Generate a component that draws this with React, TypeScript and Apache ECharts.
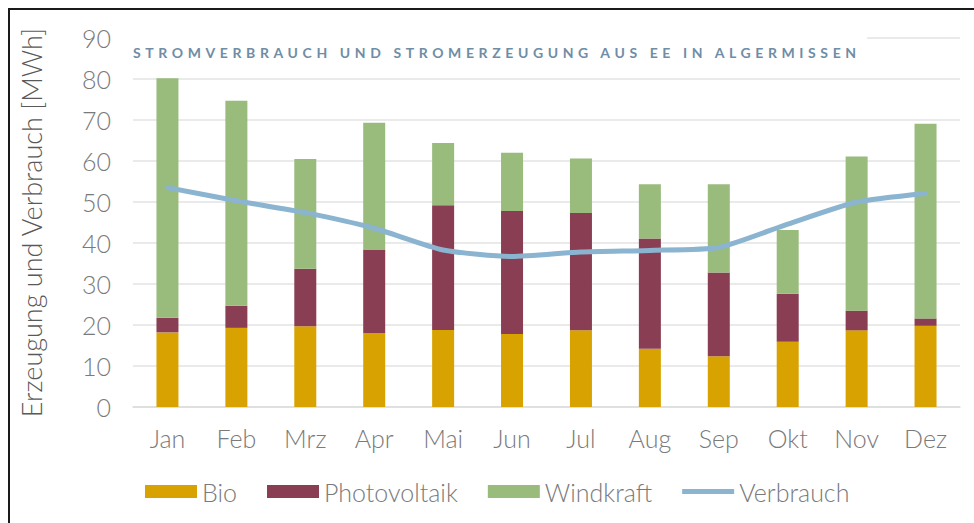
import React, { useEffect, useRef } from "react";
import * as echarts from "echarts";

const TITLE = "STROMVERBRAUCH UND STROMERZEUGUNG AUS EE IN ALGERMISSEN";
const months = ["Jan", "Feb", "Mrz", "Apr", "Mai", "Jun", "Jul", "Aug", "Sep", "Okt", "Nov", "Dez"];
const bio = [18.2, 19.3, 19.7, 18.0, 18.8, 17.8, 18.7, 14.2, 12.4, 15.9, 18.7, 19.8];
const photovoltaik = [3.6, 5.4, 14.0, 20.4, 30.4, 30.0, 28.6, 26.9, 20.4, 11.7, 4.8, 1.8];
const windkraft = [58.4, 50.0, 26.8, 30.9, 15.2, 14.2, 13.3, 13.2, 21.5, 15.6, 37.6, 47.5];
const verbrauch = [53.5, 50.3, 47.4, 43.6, 38.3, 36.7, 37.8, 38.2, 38.9, 44.6, 50.0, 52.1];
const yTicks = { min: 0, max: 90, interval: 10 };

const FONT = "Lato, 'Open Sans', sans-serif";
const LABEL = "#7a7a7a";

export default function App() {
  const ref = useRef<HTMLDivElement>(null);
  useEffect(() => {
    if (!ref.current) return;
    const chart = echarts.init(ref.current, undefined, { renderer: "svg" });
    const option: any = {
      animation: false,
      backgroundColor: "#ffffff",
      textStyle: { fontFamily: FONT },
      title: {
        text: TITLE,
        left: 123,
        top: 35,
        padding: 0,
        z: 10,
        textStyle: { fontFamily: FONT, fontSize: 14, fontWeight: "bold", color: "#6f8da6" },
      },
      graphic: [
        {
          type: "rect",
          z: 5,
          shape: { x: 122, y: 20, width: 735, height: 36 },
          style: { fill: "#ffffff" },
        },
      ],
      grid: { left: 122, right: 14, top: 28, bottom: 116, containLabel: false },
      legend: {
        left: 130,
        top: 464,
        itemWidth: 52,
        itemHeight: 13,
        itemGap: 30,
        textStyle: { fontFamily: FONT, fontSize: 25, color: LABEL, fontWeight: 300 },
        data: [
          { name: "Bio", icon: "rect" },
          { name: "Photovoltaik", icon: "rect" },
          { name: "Windkraft", icon: "rect" },
          { name: "Verbrauch", icon: "path://M0,0 L52,0 L52,5 L0,5 Z" },
        ],
      },
      xAxis: {
        type: "category",
        data: months,
        axisTick: { show: false },
        axisLine: { lineStyle: { color: "#dcdcdc", width: 1.5 } },
        axisLabel: { fontFamily: FONT, fontSize: 25, color: LABEL, margin: 18, fontWeight: 300 },
      },
      yAxis: {
        type: "value",
        min: yTicks.min,
        max: yTicks.max,
        interval: yTicks.interval,
        name: "Erzeugung und Verbrauch [MWh]",
        nameLocation: "middle",
        nameGap: 88,
        nameTextStyle: { fontFamily: FONT, fontSize: 27, color: "#595959", fontWeight: 300 },
        axisLine: { show: false },
        axisTick: { show: false },
        splitLine: { lineStyle: { color: "#e3e3e3", width: 1.5 } },
        axisLabel: { fontFamily: FONT, fontSize: 25, color: LABEL, margin: 22, fontWeight: 300 },
      },
      series: [
        {
          name: "Bio",
          type: "bar",
          stack: "e",
          barWidth: 22,
          data: bio,
          itemStyle: { color: "#d8a300" },
        },
        {
          name: "Photovoltaik",
          type: "bar",
          stack: "e",
          barWidth: 22,
          data: photovoltaik,
          itemStyle: { color: "#893e53" },
        },
        {
          name: "Windkraft",
          type: "bar",
          stack: "e",
          barWidth: 22,
          data: windkraft,
          itemStyle: { color: "#99bb7c" },
        },
        {
          name: "Verbrauch",
          type: "line",
          data: verbrauch,
          smooth: 0.2,
          showSymbol: false,
          symbol: "none",
          z: 4,
          lineStyle: { color: "#8ab4d0", width: 5, cap: "round" },
          itemStyle: { color: "#8ab4d0" },
        },
      ],
    };
    chart.setOption(option);
    const fix = () => {
      const texts = ref.current ? ref.current.querySelectorAll("text") : [];
      texts.forEach((t: any) => {
        if (t.textContent === TITLE) t.setAttribute("letter-spacing", "4.6px");
      });
    };
    fix();
    chart.on("finished", fix);
    return () => {
      chart.dispose();
    };
  }, []);
  return (
    <div
      style={{
        position: "absolute",
        left: 8,
        top: 8,
        borderLeft: "2px solid #1a1a1a",
        borderTop: "2px solid #1a1a1a",
      }}
    >
      <div ref={ref} style={{ width: 964, height: 513 }} />
    </div>
  );
}
